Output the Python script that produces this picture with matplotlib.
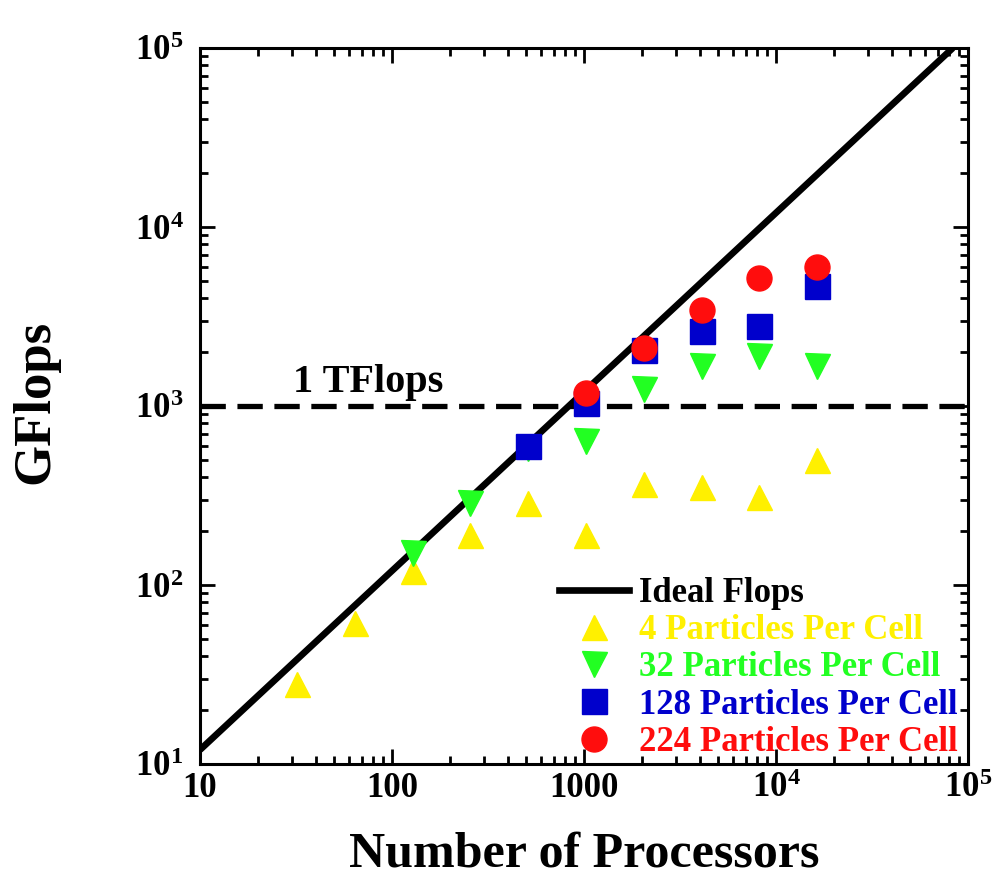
import matplotlib
matplotlib.use("Agg")
import matplotlib.pyplot as plt
from matplotlib.ticker import FixedLocator, LogLocator, NullFormatter
from matplotlib.lines import Line2D

plt.rcParams['font.family'] = ['Liberation Serif', 'DejaVu Serif']
plt.rcParams['font.weight'] = 'bold'
plt.rcParams['mathtext.fontset'] = 'custom'
plt.rcParams['mathtext.rm'] = 'Liberation Serif:bold'
plt.rcParams['mathtext.bf'] = 'Liberation Serif:bold'
plt.rcParams['mathtext.it'] = 'Liberation Serif:bold'

# ---- data ----
ideal_x = [10, 32, 64, 128, 256, 512, 1024, 2048, 4096, 8192, 16384, 32768, 65536, 83333]
ideal_y = [12, 38.4, 76.8, 153.6, 307.2, 614.4, 1228.8, 2457.6, 4915.2, 9830.4, 19660.8, 39321.6, 78643.2, 100000]

p4_x = [32, 64, 128, 256, 512, 1024, 2048, 4096, 8192, 16384]
p4_y = [28, 61, 119, 191, 288, 190, 368, 354, 310, 501]

p32_x = [128, 256, 512, 1024, 2048, 4096, 8192, 16384]
p32_y = [150, 288, 582, 635, 1240, 1667, 1910, 1667]

p128_x = [512, 1024, 2048, 4096, 8192, 16384]
p128_y = [598, 1040, 2050, 2614, 2788, 4667]

p224_x = [1024, 2048, 4096, 8192, 16384]
p224_y = [1185, 2117, 3437, 5166, 5956]

tflops_level = 1000

x_ticks = [10, 100, 1000, 1e4, 1e5]
x_ticklabels = ['10', '100', '1000', r'$10^{4}$', r'$10^{5}$']
y_ticks = [1e1, 1e2, 1e3, 1e4, 1e5]
y_ticklabels = [r'$10^{1}$', r'$10^{2}$', r'$10^{3}$', r'$10^{4}$', r'$10^{5}$']

labels = ['Ideal Flops', '4 Particles Per Cell', '32 Particles Per Cell',
          '128 Particles Per Cell', '224 Particles Per Cell']

c_yellow = '#FFF000'
c_green = '#22FF22'
c_blue = '#0000CC'
c_red = '#FF0D0D'

fig = plt.figure(figsize=(9.93, 8.82), dpi=100)
ax = fig.add_axes([200/993, 1-764/882, 768/993, 716/882])

ax.plot(ideal_x, ideal_y, color='black', lw=4.8, solid_capstyle='butt', zorder=3)
ax.axhline(tflops_level, color='black', lw=3.8, dashes=(4.8, 2.2), zorder=2)

ms = 18
ax.plot(p4_x, p4_y, ls='none', marker='^', ms=ms, color=c_yellow, mec=c_yellow, zorder=4)
ax.plot(p32_x, p32_y, ls='none', marker='v', ms=ms, color=c_green, mec=c_green, zorder=5)
ax.plot(p128_x, p128_y, ls='none', marker='s', ms=ms, color=c_blue, mec=c_blue, zorder=6)
ax.plot(p224_x, p224_y, ls='none', marker='o', ms=ms, color=c_red, mec=c_red, zorder=7)

ax.set_xscale('log')
ax.set_yscale('log')
ax.set_xlim(10, 1e5)
ax.set_ylim(10, 1e5)

ax.xaxis.set_major_locator(FixedLocator(x_ticks))
ax.set_xticklabels(x_ticklabels)
ax.yaxis.set_major_locator(FixedLocator(y_ticks))
ax.set_yticklabels(y_ticklabels)
ax.xaxis.set_minor_locator(LogLocator(base=10, subs=range(2, 10)))
ax.yaxis.set_minor_locator(LogLocator(base=10, subs=range(2, 10)))
ax.xaxis.set_minor_formatter(NullFormatter())
ax.yaxis.set_minor_formatter(NullFormatter())

ax.tick_params(which='both', direction='in', top=True, right=True, width=2)
ax.tick_params(which='major', length=11, labelsize=25, pad=6)
ax.tick_params(axis='y', which='major', pad=12)
ax.tick_params(which='minor', length=6)
for s in ax.spines.values():
    s.set_linewidth(2.2)

ax.text(30.5, 1060, '1 TFlops', fontsize=29, fontweight='bold', ha='left', va='bottom')

ax.set_xlabel('Number of Processors', fontsize=36, fontweight='bold', va='center')
ax.xaxis.set_label_coords(0.5, -0.127)
ax.set_ylabel('GFlops', fontsize=38, fontweight='bold', va='center', ha='center')
ax.yaxis.set_label_coords(-0.215, 0.506)

handles = [
    Line2D([], [], color='black', lw=4.8),
    Line2D([], [], ls='none', marker='^', ms=ms, color=c_yellow),
    Line2D([], [], ls='none', marker='v', ms=ms, color=c_green),
    Line2D([], [], ls='none', marker='s', ms=ms, color=c_blue),
    Line2D([], [], ls='none', marker='o', ms=ms, color=c_red),
]
leg = ax.legend(handles, labels, loc='upper left', bbox_to_anchor=(0.468, 0.261),
                frameon=False, fontsize=25, handlelength=2.0, handletextpad=0.3,
                labelspacing=0.12, borderpad=0, borderaxespad=0)
for t, c in zip(leg.get_texts(), ['black', c_yellow, c_green, c_blue, c_red]):
    t.set_color(c)
    t.set_fontweight('bold')

fig.savefig('out.png', dpi=100)
